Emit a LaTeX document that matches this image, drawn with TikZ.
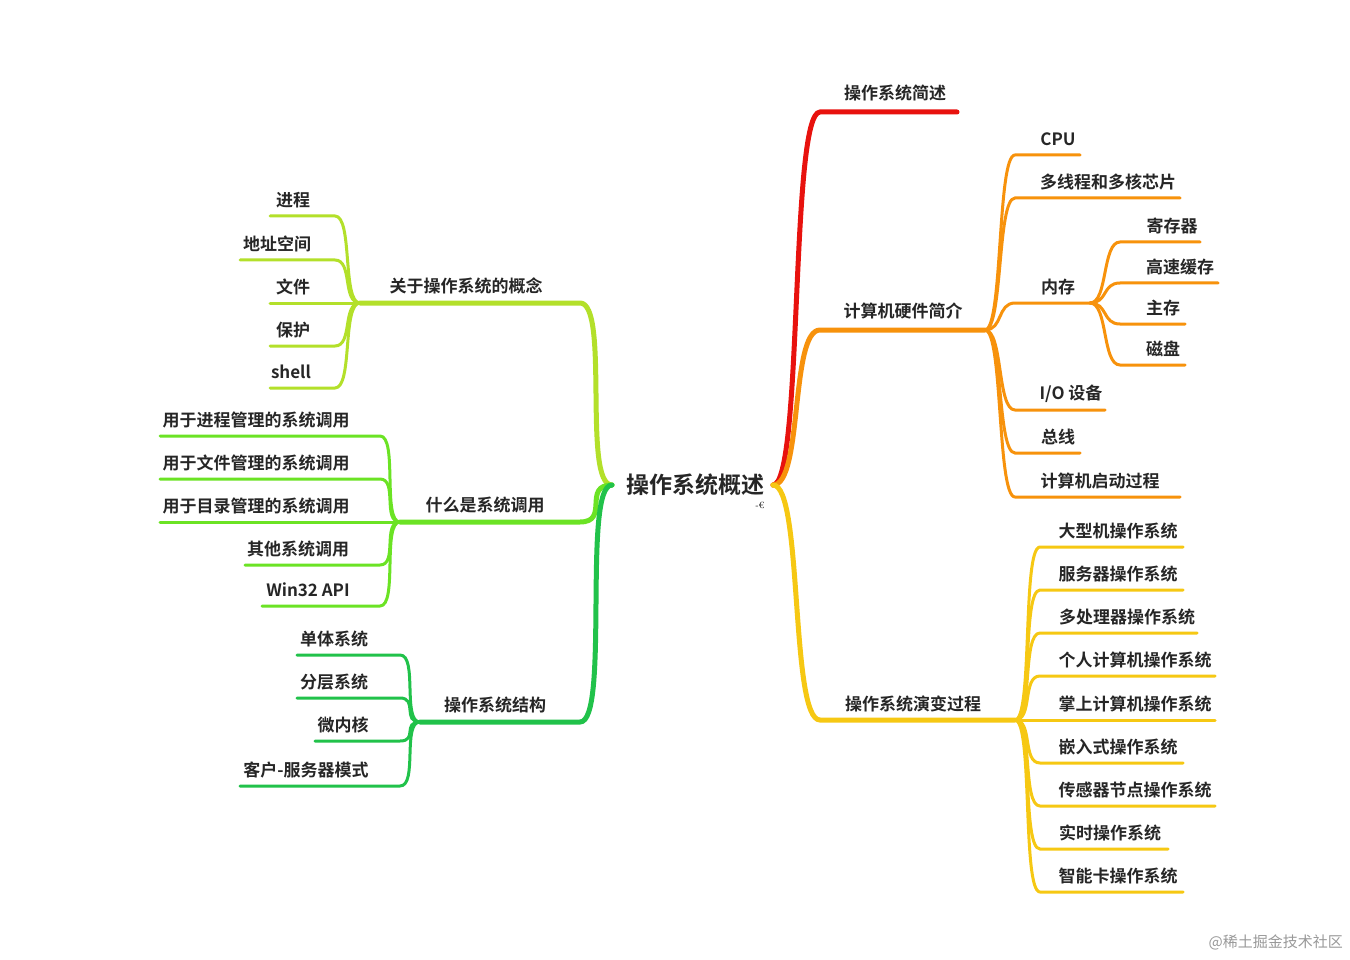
\documentclass[tikz,border=0pt]{standalone}
\usepackage{fontspec}
\newfontfamily\cjk{Noto Sans CJK SC}[BoldFont={Noto Sans CJK SC Bold}]
\definecolor{cRed}{HTML}{E8120E}
\definecolor{cOra}{HTML}{F7920C}
\definecolor{cYel}{HTML}{F6C813}
\definecolor{cLg}{HTML}{B3E02A}
\definecolor{cGr}{HTML}{6BE324}
\definecolor{cDg}{HTML}{21C24A}
\tikzset{
 lab/.style={font=\cjk\bfseries\fontsize{17}{17}\selectfont, text=black!85, inner sep=0pt},
 main/.style={line width=5pt, line cap=round, out distance=30pt, in distance=30pt},
 leaf/.style={line width=3pt, line cap=round, out distance=18pt, in distance=18pt},
}
\begin{document}
\begin{tikzpicture}[x=1pt,y=-1pt]
\useasboundingbox[fill=white] (0,0) rectangle (1350,960);
\node[lab,font=\cjk\bfseries\fontsize{23}{23}\selectfont] (root) at (695,485) {操作系统概述};
\node[font=\fontsize{9}{9}\selectfont, inner sep=0pt] (mk) at (760,505) {-€};
\coordinate (R) at (773,485);
\coordinate (L) at (612,485);
\coordinate (a1) at (820,112); \coordinate (a2) at (957,112);
\draw[main,cRed] (R) to[out=0,in=180] (a1) -- (a2);
\node[lab] (ta) at (895,93) {操作系统简述};
\coordinate (b1) at (820,330); \coordinate (b2) at (985,330);
\draw[main,cOra] (R) to[out=0,in=180] (b1) -- (b2);
\node[lab] (tb) at (903,311) {计算机硬件简介};
\foreach \y/\e/\t/\x in {155/1080/CPU/1058, 198/1180/多线程和多核芯片/1108, 303/1090/内存/1058, 410/1105/{I/O 设备}/1071, 453/1080/总线/1058, 497/1180/计算机启动过程/1100}{
  \coordinate (bs\y) at (1015,\y); \coordinate (be\y) at (\e,\y);
  \draw[leaf,cOra] (b2) to[out=0,in=180] (bs\y) -- (be\y);
  \node[lab] (bt\y) at (\x,\y-16) {\t};
}
\foreach \y/\e/\t/\x in {242/1200/寄存器/1172, 283/1218/高速缓存/1180, 324/1185/主存/1163, 365/1185/磁盘/1163}{
  \coordinate (ms\y) at (1120,\y); \coordinate (me\y) at (\e,\y);
  \draw[leaf,cOra] (be303) to[out=0,in=180] (ms\y) -- (me\y);
  \node[lab] (mt\y) at (\x,\y-16) {\t};
}
\coordinate (c1) at (820,720); \coordinate (c2) at (1015,720);
\draw[main,cYel] (R) to[out=0,in=180] (c1) -- (c2);
\node[lab] (tc) at (913,704) {操作系统演变过程};
\foreach \y/\e/\t/\x in {547/1183/大型机操作系统/1118, 590/1183/服务器操作系统/1118, 633/1197/多处理器操作系统/1127, 676/1215/个人计算机操作系统/1135, 720/1215/掌上计算机操作系统/1135, 763/1183/嵌入式操作系统/1118, 806/1215/传感器节点操作系统/1135, 849/1168/实时操作系统/1110, 892/1183/智能卡操作系统/1118}{
  \coordinate (cs\y) at (1040,\y); \coordinate (ce\y) at (\e,\y);
  \draw[leaf,cYel] (c2) to[out=0,in=180] (cs\y) -- (ce\y);
  \node[lab] (ct\y) at (\x,\y-16) {\t};
}
\coordinate (d1) at (580,303); \coordinate (d2) at (360,303);
\draw[main,cLg] (L) to[out=180,in=0] (d1) -- (d2);
\node[lab] (td) at (466,286) {关于操作系统的概念};
\foreach \y/\s/\t/\x in {216/270/进程/293, 260/240/地址空间/277, 303/270/文件/293, 346/270/保护/293, 388/270/shell/291}{
  \coordinate (ds\y) at (335,\y); \coordinate (de\y) at (\s,\y);
  \draw[leaf,cLg] (d2) to[out=180,in=0] (ds\y) -- (de\y);
  \node[lab] (dt\y) at (\x,\y-16) {\t};
}
\coordinate (e1) at (580,522); \coordinate (e2) at (400,522);
\draw[main,cGr] (L) to[out=180,in=0] (e1) -- (e2);
\node[lab] (te) at (485,505) {什么是系统调用};
\foreach \y/\s/\t/\x in {436/160/用于进程管理的系统调用/256, 479/160/用于文件管理的系统调用/256, 522/160/用于目录管理的系统调用/256, 565/245/其他系统调用/298, 606/262/Win32 API/308}{
  \coordinate (es\y) at (380,\y); \coordinate (ee\y) at (\s,\y);
  \draw[leaf,cGr] (e2) to[out=180,in=0] (es\y) -- (ee\y);
  \node[lab] (et\y) at (\x,\y-16) {\t};
}
\coordinate (f1) at (580,722); \coordinate (f2) at (420,722);
\draw[main,cDg] (L) to[out=180,in=0] (f1) -- (f2);
\node[lab] (tf) at (495,705) {操作系统结构};
\foreach \y/\s/\t/\x in {655/297/单体系统/334, 698/297/分层系统/334, 741/315/微内核/343, 786/240/客户-服务器模式/306}{
  \coordinate (fs\y) at (400,\y); \coordinate (fe\y) at (\s,\y);
  \draw[leaf,cDg] (f2) to[out=180,in=0] (fs\y) -- (fe\y);
  \node[lab] (ft\y) at (\x,\y-16) {\t};
}
\node[font=\cjk\fontsize{15}{15}\selectfont, text=black!40, anchor=east, inner sep=0pt] (wm) at (1343,942) {@稀土掘金技术社区};
\end{tikzpicture}
\end{document}
